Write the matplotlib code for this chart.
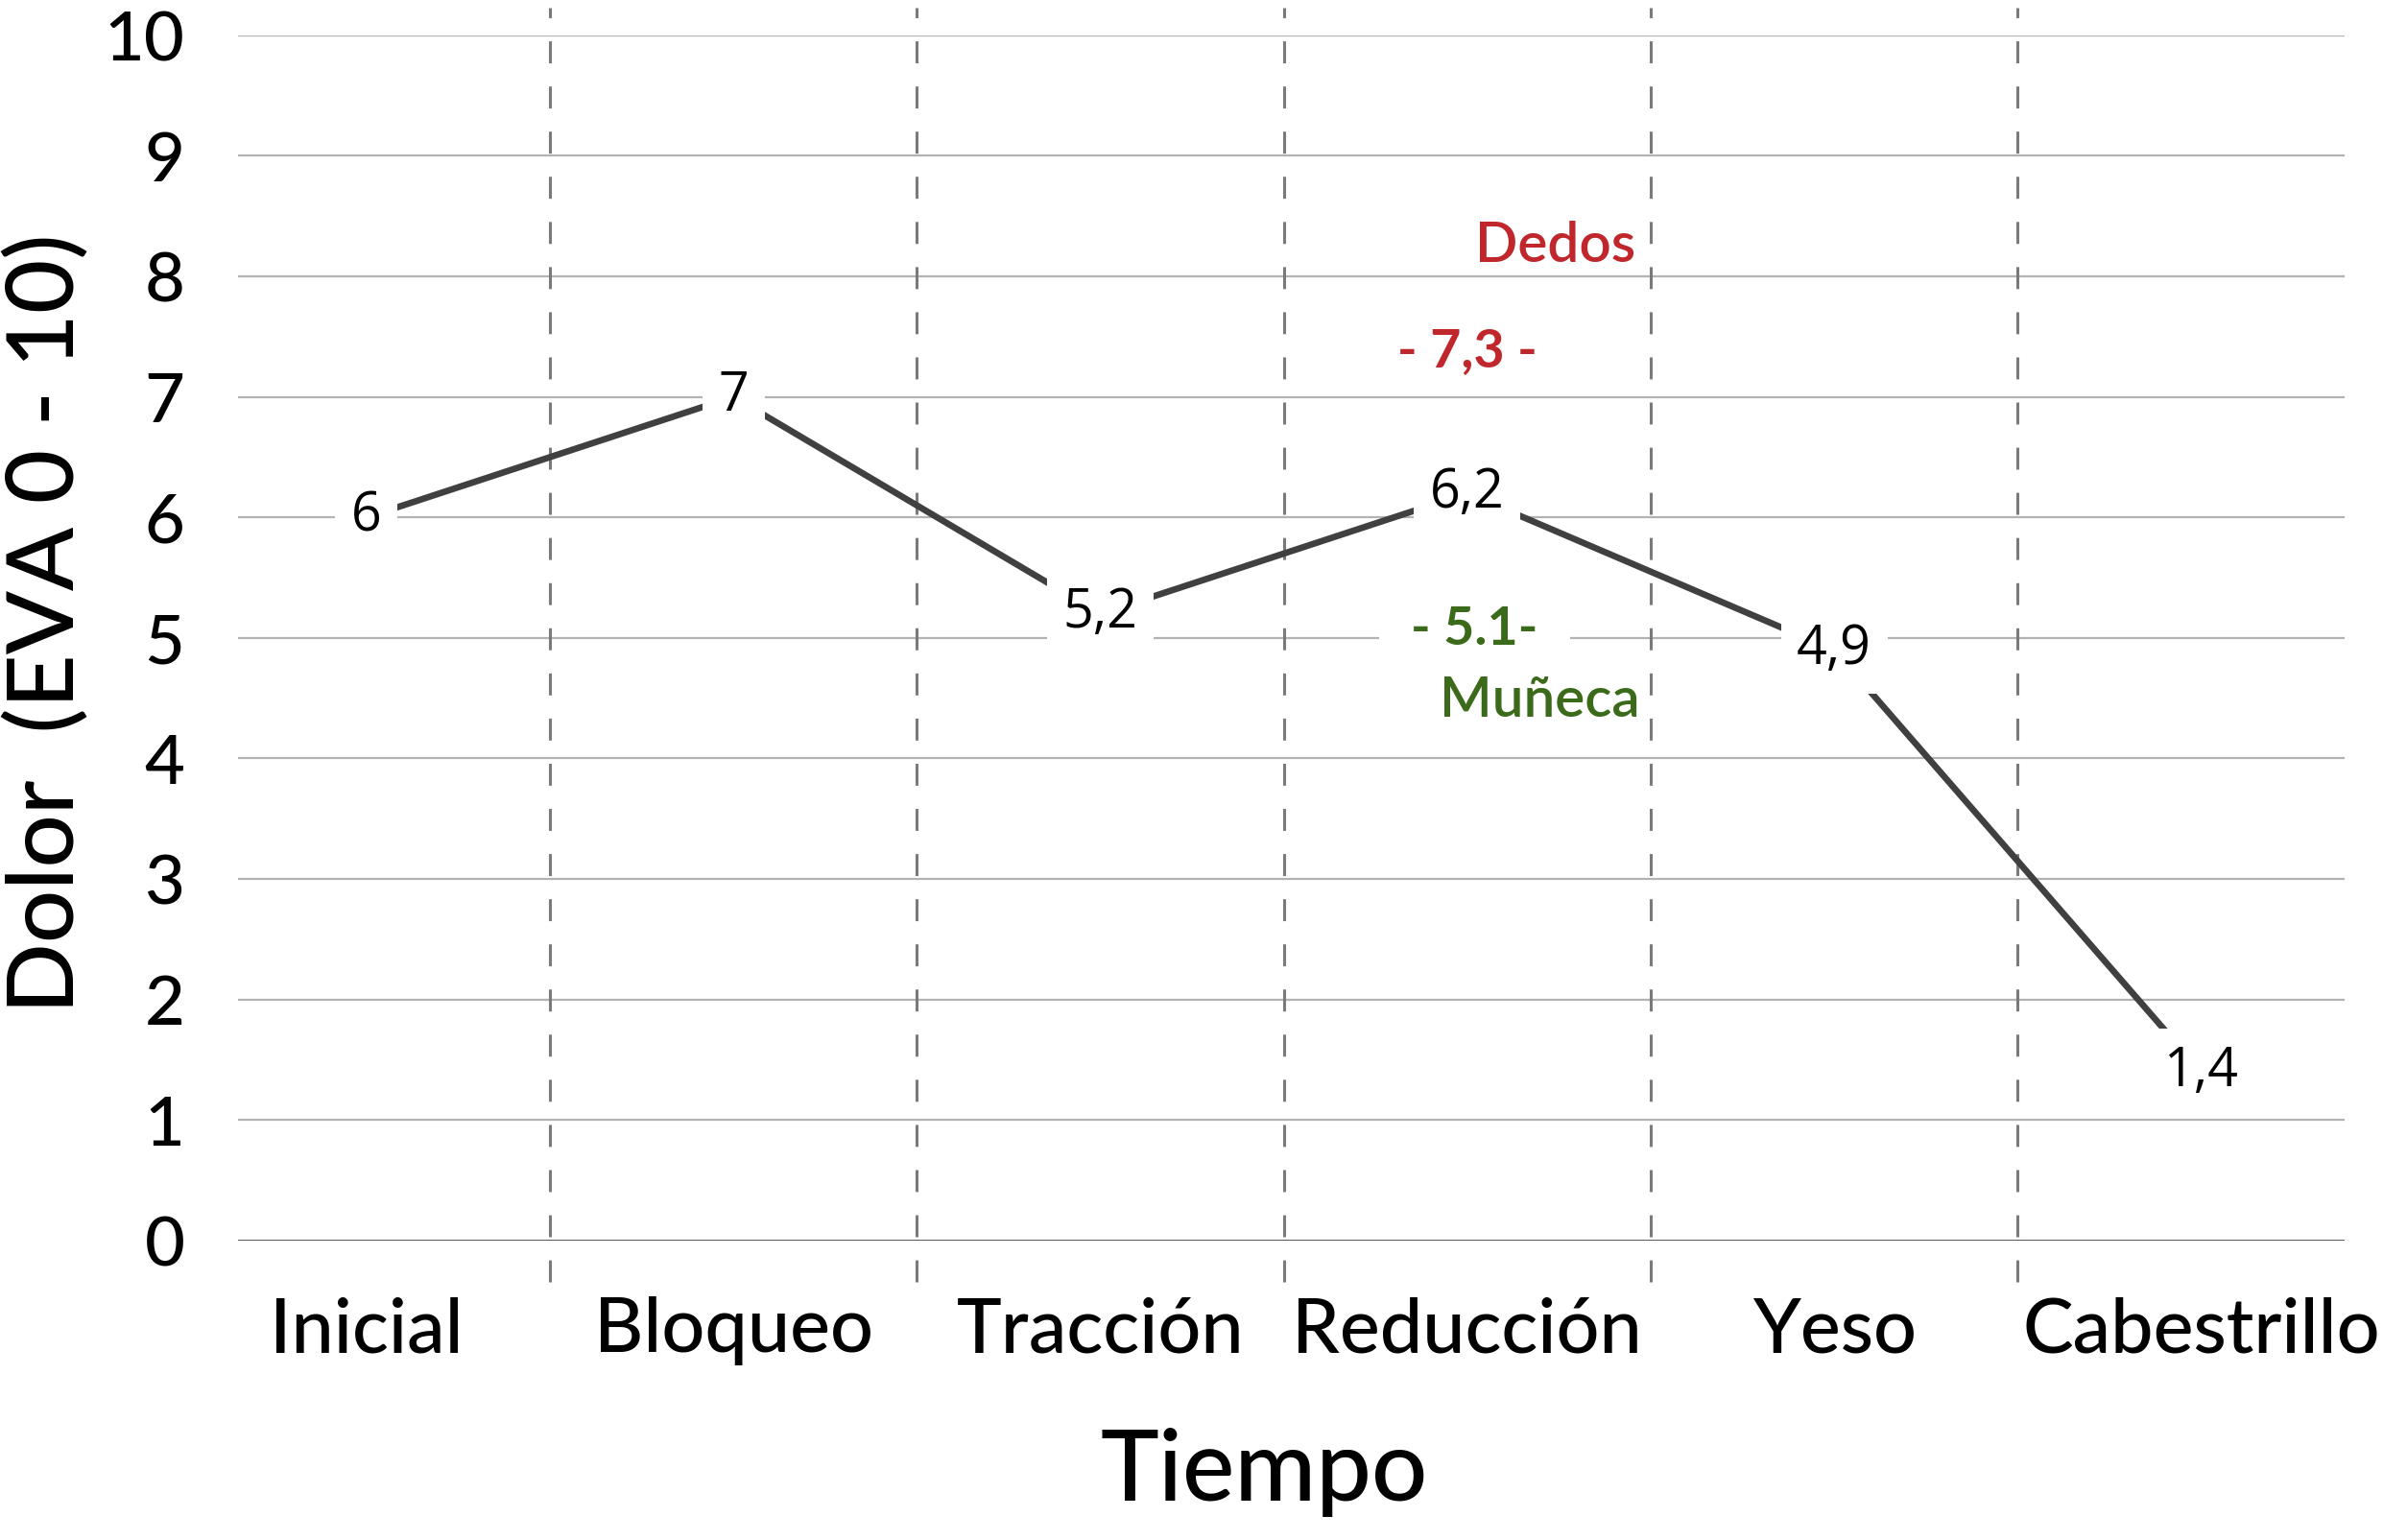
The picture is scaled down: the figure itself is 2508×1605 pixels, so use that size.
import matplotlib
matplotlib.use("Agg")
import matplotlib.pyplot as plt

# datos
etapas = ["Inicial", "Bloqueo", "Tracción", "Reducción", "Yeso", "Cabestrillo"]
dolor = [6, 7, 5.2, 6.2, 4.9, 1.4]
y_ticks = list(range(0, 11))

# notas de la etapa de reducción
nota_dedos = "Dedos"
valor_dedos = "- 7,3 -"
nota_muneca = "Muñeca"
valor_muneca = "- 5.1-"

color_rojo = "#c0272d"
color_verde = "#3b6b1a"
fuente = "Lato"

fig = plt.figure(figsize=(25.08, 16.05), dpi=100)
ax = fig.add_axes([0.0989, 0.1944, 0.875, 0.7827])

x = list(range(len(etapas)))
ax.set_xlim(-0.35, 5.39)
ax.set_ylim(0, 10)

# rejilla horizontal
for v in y_ticks[1:]:
    ax.axhline(v, color="#b3b3b3", lw=1.6, zorder=1)
ax.axhline(0, color="#222222", lw=1.8, zorder=2)

# separadores verticales discontinuos
for i in range(len(etapas) - 1):
    ax.axvline(i + 0.5, ymin=-0.034, ymax=1.023, clip_on=False,
               color="#7a7a7a", lw=2.2, linestyle=(0, (7.5, 7.9)), zorder=1)

ax.plot(x, dolor, color="#404040", lw=4.8, solid_capstyle="butt", zorder=3)

for xi, v in zip(x, dolor):
    etiqueta = f"{v:g}".replace(".", ",")
    ax.text(xi, v, etiqueta, ha="center", va="center", fontsize=40,
            family="Open Sans", color="black", zorder=4,
            bbox=dict(boxstyle="square,pad=0.3", fc="white", ec="none"))

# anotaciones
ax.text(3.46, 8.25, nota_dedos, ha="right", va="center", fontsize=42,
        family=fuente, weight="semibold", color=color_rojo, zorder=4)
ax.text(3.0, 7.38, valor_dedos, ha="center", va="center", fontsize=40,
        family=fuente, weight="bold", color=color_rojo, zorder=4)
ax.text(3.02, 5.07, valor_muneca, ha="center", va="center", fontsize=40,
        family=fuente, weight="bold", color=color_verde, zorder=4,
        bbox=dict(boxstyle="square,pad=0.6", fc="white", ec="none"))
ax.text(3.47, 4.48, nota_muneca, ha="right", va="center", fontsize=42,
        family=fuente, weight="semibold", color=color_verde, zorder=4)

ax.set_xticks(x)
ax.set_xticklabels(etapas, fontsize=57, family=fuente, weight="medium")
ax.set_yticks(y_ticks)
ax.set_yticklabels([str(t) for t in y_ticks], fontsize=52, family=fuente,
                   weight="medium")
ax.tick_params(axis="x", length=0, pad=42)
ax.tick_params(axis="y", length=0, pad=40)

for s in ax.spines.values():
    s.set_visible(False)

ax.set_xlabel("Tiempo", fontsize=74, family=fuente, weight="medium")
ax.xaxis.set_label_coords(0.487, -0.155)
fig.text(0.019, 0.595, "Dolor  (EVA 0 - 10)", rotation=90, ha="center",
         va="center", fontsize=70, family=fuente, weight="medium")

fig.savefig("out.png", dpi=100, facecolor="white")
